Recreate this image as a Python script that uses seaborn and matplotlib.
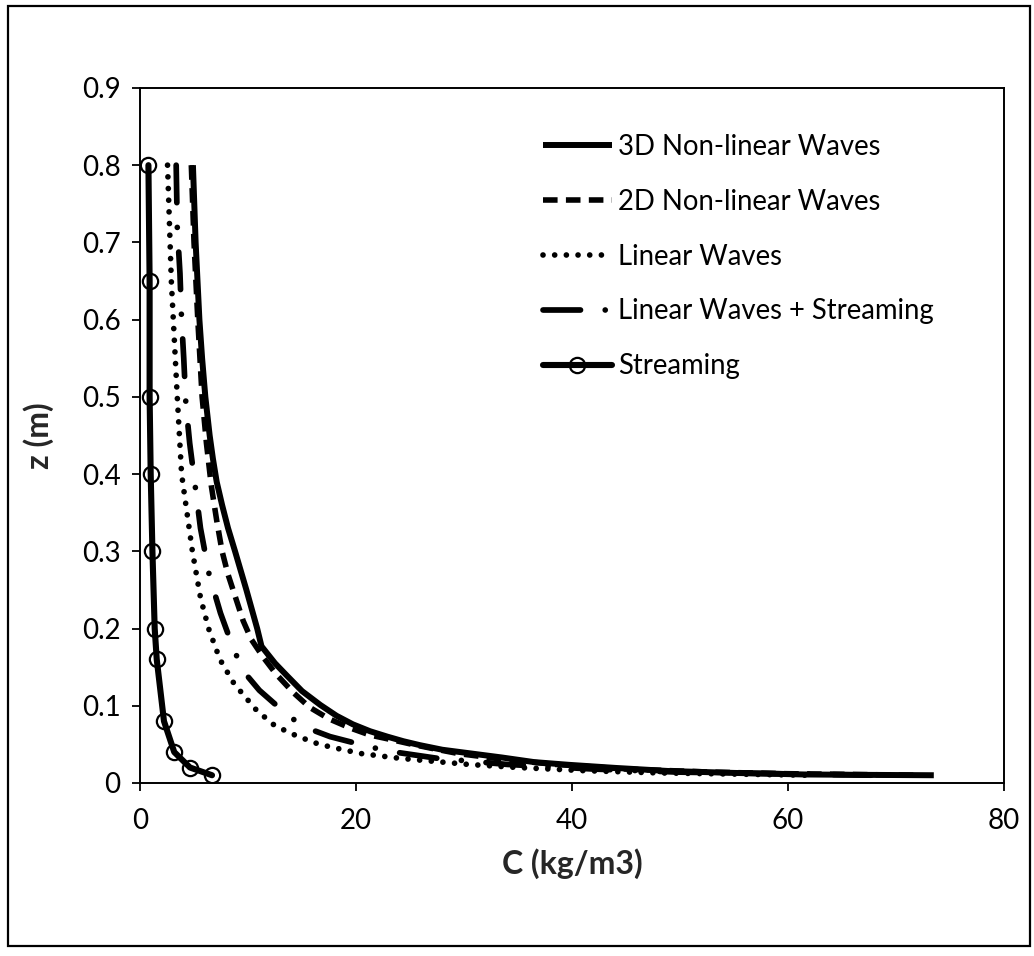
import matplotlib
matplotlib.use("Agg")
import matplotlib.pyplot as plt
import seaborn as sns
from matplotlib.patches import Rectangle
from matplotlib.ticker import FuncFormatter

# Concentration profiles C(z) for the different wave models
z_3d = [0.80, 0.70, 0.60, 0.55, 0.50, 0.45, 0.42, 0.39, 0.36, 0.33, 0.30, 0.25, 0.20,
        0.177, 0.155, 0.139, 0.119, 0.101, 0.087, 0.076, 0.067, 0.060, 0.054, 0.049,
        0.043, 0.039, 0.033, 0.027, 0.0235, 0.0195, 0.0155, 0.013, 0.011, 0.0105, 0.010]
c_3d = [4.9, 5.15, 5.5, 5.75, 6.05, 6.45, 6.75, 7.1, 7.6, 8.15, 8.8, 9.85, 10.85,
        11.25, 12.5, 13.6, 15.0, 16.7, 18.2, 19.7, 21.3, 22.9, 24.4, 25.9,
        28.0, 30.2, 33.5, 36.5, 39.7, 44.0, 48.9, 55.0, 61.5, 67.0, 73.5]

z_2d = [0.80, 0.70, 0.60, 0.50, 0.44, 0.385, 0.34, 0.30, 0.27, 0.24, 0.21, 0.186, 0.163,
        0.141, 0.117, 0.098, 0.083, 0.071, 0.062, 0.056, 0.050, 0.044, 0.038, 0.030,
        0.024, 0.018, 0.014, 0.012, 0.010]
c_2d = [4.75, 5.0, 5.35, 5.75, 6.15, 6.6, 7.1, 7.6, 8.15, 8.85, 9.55, 10.3, 11.4,
        12.6, 14.2, 15.7, 17.5, 19.5, 21.3, 23.3, 25.2, 27.3, 29.5, 34.0,
        38.5, 45.0, 53.0, 60.0, 72.0]

z_lin = [0.80, 0.65, 0.50, 0.40, 0.35, 0.30, 0.24, 0.20, 0.16, 0.13, 0.117, 0.094,
         0.074, 0.061, 0.050, 0.044, 0.038, 0.032, 0.024, 0.020, 0.016, 0.013, 0.010]
c_lin = [2.55, 2.90, 3.45, 3.85, 4.35, 4.85, 5.60, 6.35, 7.4, 8.65, 9.4, 10.8,
         12.5, 14.5, 16.6, 18.5, 20.5, 24.0, 30.4, 35.0, 41.0, 48.0, 62.0]

z_lin_str = [0.80, 0.72, 0.66, 0.60, 0.55, 0.49, 0.44, 0.38, 0.33, 0.27, 0.22, 0.17,
             0.14, 0.12, 0.085, 0.07, 0.06, 0.047, 0.041, 0.032, 0.024, 0.018, 0.014, 0.010]
c_lin_str = [3.35, 3.45, 3.7, 3.85, 4.05, 4.25, 4.6, 5.15, 5.6, 6.4, 7.45, 8.75,
             9.85, 11.05, 13.9, 15.7, 17.6, 21.2, 23.1, 27.5, 34.0, 42.0, 50.0, 68.0]

z_str = [0.80, 0.65, 0.50, 0.40, 0.30, 0.20, 0.16, 0.08, 0.04, 0.02, 0.01]
c_str = [0.78, 0.89, 0.89, 0.99, 1.15, 1.36, 1.55, 2.22, 3.17, 4.63, 6.67]

labels = ["3D Non-linear Waves", "2D Non-linear Waves", "Linear Waves",
          "Linear Waves + Streaming", "Streaming"]
x_ticks = [0, 20, 40, 60, 80]
y_ticks = [0.0, 0.1, 0.2, 0.3, 0.4, 0.5, 0.6, 0.7, 0.8, 0.9]

sns.set_theme(style="ticks")
plt.rcParams["font.family"] = ["Lato", "DejaVu Sans"]
plt.rcParams["lines.scale_dashes"] = False
plt.rcParams["axes.edgecolor"] = "black"
plt.rcParams["xtick.color"] = "black"
plt.rcParams["ytick.color"] = "black"
plt.rcParams["text.color"] = "black"

fig = plt.figure(figsize=(10.34, 9.56), dpi=100)
ax = fig.add_axes([0.1354, 0.1810, 0.8356, 0.7270])

common = dict(ax=ax, sort=False, estimator=None, color="black", legend=False)

sns.lineplot(x=c_3d, y=z_3d, lw=4.3, solid_capstyle="butt", label=labels[0], **common)
sns.lineplot(x=c_2d, y=z_2d, lw=4.0, linestyle=(0, (10.5, 6.0)),
             dash_capstyle="butt", label=labels[1], **common)
sns.lineplot(x=c_lin, y=z_lin, lw=4.1, linestyle=(0, (0.01, 8.4)),
             dash_capstyle="round", label=labels[2], **common)
sns.lineplot(x=c_lin_str, y=z_lin_str, lw=4.1, linestyle=(0, (27.0, 17.8, 0.01, 17.8)),
             dash_capstyle="round", label=labels[3], **common)
sns.lineplot(x=c_str, y=z_str, lw=4.4, marker="o", ms=11, mfc="none",
             mec="black", mew=1.6, label=labels[4], **common)

ax.set_xlim(0, 80)
ax.set_ylim(0, 0.9)
ax.set_xticks(x_ticks)
ax.set_yticks(y_ticks)
ax.yaxis.set_major_formatter(FuncFormatter(lambda v, _: "0" if abs(v) < 1e-9 else f"{v:.1f}"))
ax.xaxis.set_major_formatter(FuncFormatter(lambda v, _: f"{v:.0f}"))
ax.tick_params(axis="both", direction="out", length=6, width=1.3, labelsize=20)
ax.tick_params(axis="y", pad=8)
ax.tick_params(axis="x", pad=12)
for side in ["left", "right", "top", "bottom"]:
    ax.spines[side].set_visible(True)
    ax.spines[side].set_linewidth(1.4)
    ax.spines[side].set_color("black")

ax.set_xlabel("C (kg/m3)", fontsize=23, fontweight="bold", labelpad=10)
ax.set_ylabel("z (m)", fontsize=23, fontweight="bold", labelpad=20)

ax.legend(loc="upper left", bbox_to_anchor=(0.525, 0.860), bbox_transform=fig.transFigure,
          frameon=False, fontsize=19.8, handlelength=2.5, handletextpad=0.25,
          labelspacing=1.05, borderpad=0, borderaxespad=0)

# Chart-area border
fig.patches.append(Rectangle((8 / 1034, 1 - 946 / 956), 1022 / 1034, 940 / 956,
                             transform=fig.transFigure, fill=False, lw=1.6,
                             ec="black"))

fig.savefig("out.png", dpi=100)
